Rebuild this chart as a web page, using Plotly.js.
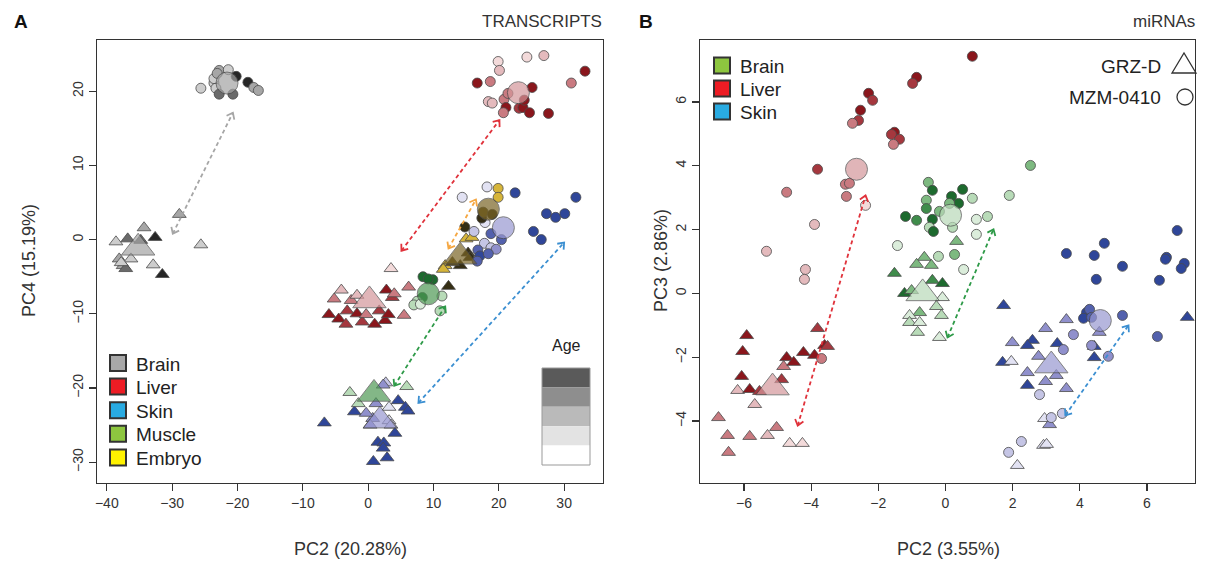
<!DOCTYPE html>
<html>
<head>
<meta charset="utf-8">
<script src="https://cdn.plot.ly/plotly-3.0.1.min.js"></script>
<style>html,body{margin:0;padding:0;background:#fff}</style>
</head>
<body>
<div id="chart" style="width:1205px;height:563px"></div>
<script>
// ---------- Panel A: transcripts, PC2 vs PC4 ----------
// each point: [PC2, PC4, age class 0 (young) .. 4 (old)]
const A_BRAIN_GRZ = [[-34.3,1.6,2],[-32.6,0.3,4],[-38.6,-0.3,1],[-36.8,0.1,3],[-34.8,-0.1,3],[-28.9,3.4,2],[-25.6,-0.7,1],[-32.9,-3.4,1],[-31.5,-4.7,4],[-38.1,-2.6,2],[-37.5,-3.5,2],[-37.1,-3.9,3],[-36.3,-2.6,1],[-37.8,-3.1,1]];
const A_BRAIN_MZM = [[-25.6,20.4,1],[-22.8,22.8,2],[-21.4,22.9,1],[-20.2,22.0,4],[-18.4,21.2,4],[-17.5,20.5,2],[-16.8,20.1,2],[-23.6,21.1,1],[-23.3,20.4,1],[-22.8,19.6,3],[-20.7,19.6,3],[-23.6,21.7,1],[-23.1,22.4,2]];
const A_LIVER_GRZ = [[-5.2,-8.0,2],[-4.1,-6.8,1],[-3.2,-9.6,3],[-2.6,-8.2,2],[-1.7,-10.0,4],[-0.9,-11.1,3],[-0.3,-10.1,2],[1.7,-9.6,3],[2.6,-10.9,4],[3.7,-7.8,3],[3.5,-3.9,0],[6.2,-6.4,2],[2.8,-6.8,4],[4.0,-7.3,2],[3.1,-10.1,4],[5.5,-10.2,2],[-6.0,-10.1,4],[-4.5,-10.7,4],[-3.4,-11.4,3],[1.0,-11.4,4],[-1.7,-7.5,1]];
const A_LIVER_MZM = [[19.9,24.0,0],[20.1,22.8,1],[24.3,24.6,0],[26.9,24.8,1],[33.2,22.7,4],[16.7,21.1,4],[18.7,21.3,2],[31.1,21.1,2],[25.1,20.5,4],[18.4,18.6,1],[19.0,18.4,1],[20.8,18.9,2],[21.4,19.7,2],[21.1,17.8,4],[20.7,17.1,2],[23.1,17.7,3],[23.7,17.8,4],[23.9,18.8,4],[24.7,17.1,4],[27.6,17.0,4]];
const A_SKIN_GRZ = [[2.7,-19.3,1],[2.3,-19.6,2],[-6.7,-24.7,4],[4.6,-21.7,4],[5.7,-22.6,4],[6.1,-23.1,4],[-2.1,-23.2,4],[3.2,-22.6,0],[0.7,-24.1,2],[0.3,-25.0,2],[3.2,-24.4,0],[3.5,-25.0,1],[4.1,-26.1,4],[1.5,-27.3,4],[2.4,-27.4,4],[2.3,-28.1,4],[2.9,-29.4,4],[0.8,-29.9,4],[1.2,-22.1,2],[-0.3,-23.4,2]];
const A_SKIN_MZM = [[18.2,7.1,0],[14.4,5.7,0],[17.9,2.3,0],[22.5,6.3,4],[31.8,5.7,4],[27.3,3.5,4],[28.7,3.0,4],[30.1,3.5,4],[25.3,1.1,4],[26.5,0.0,4],[18.8,0.8,3],[20.4,0.0,3],[16.2,1.1,1],[17.8,-0.5,1],[18.8,-1.1,1],[19.6,-1.3,2],[16.8,-1.4,3],[17.1,-2.2,4],[18.4,-1.9,3],[16.7,-2.9,3]];
const A_MUSCLE_GRZ = [[-2.8,-20.6,1],[5.9,-19.8,1],[-1.5,-22.1,1]];
const A_MUSCLE_MZM = [[8.4,-5.0,4],[9.9,-5.4,4],[9.2,-5.3,4],[8.3,-7.8,4],[11.3,-7.6,1],[7.5,-8.3,1],[7.0,-8.8,1],[11.0,-9.6,1],[8.0,-8.7,0]];
const A_EMBRYO_GRZ = [[15.0,0.1,1],[15.9,0.3,1],[11.8,-3.5,1],[11.5,-4.0,1],[12.3,-6.3,4],[15.3,-1.8,4],[15.6,-2.4,4],[14.1,-3.5,4],[12.9,-3.1,3]];
const A_EMBRYO_MZM = [[19.9,6.9,1],[19.9,5.7,1],[14.8,1.7,4],[17.4,2.9,4],[17.6,3.7,3],[19.0,3.4,4]];
// group centroids
const A_MEAN_TISSUE = ['Brain','Brain','Liver','Liver','Skin','Skin','Muscle','Muscle','Embryo','Embryo'];
const A_MEAN_STRAIN = ['GRZ-D','MZM-0410','GRZ-D','MZM-0410','GRZ-D','MZM-0410','GRZ-D','MZM-0410','GRZ-D','MZM-0410'];
const A_MEAN_X = [-35.2,-21.6,0.2,23.0,1.8,20.7,0.9,9.2,14.1,18.4];
const A_MEAN_Y = [-1.1,21.1,-8.2,19.8,-24.4,1.6,-20.8,-7.3,-2.3,4.1];
// strain-shift arrows: [x0, y0, x1, y1]
const A_ARROW_TISSUE = ['Brain','Liver','Embryo','Muscle','Skin'];
const A_ARROWS = [[-29.9,0.8,-20.7,17.1],[5.1,-1.5,20.1,16.1],[12.3,-1.2,16.5,5.4],[4.0,-19.7,11.8,-9.0],[7.7,-22.0,30.0,-0.4]];

// ---------- Panel B: miRNAs, PC2 vs PC3 ----------
const B_BRAIN_GRZ = [[0.33,1.63,2],[-0.63,1.13,2],[-0.86,0.91,2],[-0.42,0.88,2],[-1.52,0.63,3],[-0.39,0.41,3],[-0.09,0.31,4],[-1.22,0.0,4],[-1.01,0.09,2],[-0.09,-0.13,0],[-0.27,-0.41,1],[-0.77,-0.60,2],[-1.07,-0.69,0],[-1.07,-0.91,1],[-0.77,-0.91,0],[-0.12,-0.69,1],[-0.83,-1.22,1],[-0.18,-1.38,0]];
const B_BRAIN_MZM = [[-0.51,3.48,2],[-0.39,3.23,4],[-0.57,2.92,2],[-0.57,2.66,3],[-1.19,2.41,4],[-0.86,2.29,3],[-0.39,2.32,4],[-0.48,2.07,1],[-0.36,1.94,4],[-0.18,2.57,2],[0.18,3.04,4],[0.51,3.26,4],[0.39,2.82,4],[0.12,2.82,2],[0.80,2.98,1],[0.21,2.07,1],[0.92,2.32,0],[1.25,2.41,1],[0.92,1.85,0],[-1.43,1.50,0],[-0.21,1.16,1],[0.27,1.22,2],[0.54,0.75,0],[1.90,3.07,1],[2.53,4.01,2]];
const B_LIVER_GRZ = [[-5.92,-1.32,4],[-6.04,-1.82,4],[-6.07,-2.60,4],[-6.19,-3.04,1],[-5.83,-3.01,4],[-5.54,-3.07,3],[-4.88,-2.70,3],[-4.82,-2.29,2],[-4.73,-2.01,4],[-4.52,-2.16,4],[-4.23,-1.85,4],[-3.90,-1.94,4],[-3.81,-1.10,3],[-3.60,-1.63,4],[-3.51,-1.66,3],[-5.68,-3.48,1],[-6.76,-3.89,2],[-6.49,-4.45,2],[-5.83,-4.48,2],[-5.30,-4.45,1],[-5.03,-4.20,2],[-4.64,-4.70,0],[-4.26,-4.70,0],[-6.46,-4.98,2]];
const B_LIVER_MZM = [[0.80,7.43,4],[-0.86,6.77,4],[-0.98,6.58,3],[-2.29,6.27,4],[-2.17,6.05,3],[-2.53,5.74,4],[-2.59,5.42,3],[-2.77,5.33,2],[-1.52,5.05,4],[-1.61,4.98,3],[-1.37,4.83,3],[-1.55,4.67,2],[-3.81,3.89,3],[-4.73,3.17,2],[-2.98,3.42,2],[-2.86,3.45,2],[-2.95,3.04,2],[-2.38,2.76,0],[-3.90,2.16,1],[-5.33,1.32,1],[-4.17,0.75,1],[-4.20,0.44,1],[-3.69,-2.04,2]];
const B_SKIN_GRZ = [[1.73,-0.38,4],[7.20,-0.75,4],[3.60,-0.82,2],[2.98,-1.10,2],[4.58,-1.22,2],[2.59,-1.47,4],[2.44,-1.63,4],[1.99,-1.54,2],[3.33,-1.57,4],[4.43,-1.66,4],[2.77,-1.97,2],[4.43,-2.01,4],[1.70,-2.16,4],[1.96,-2.13,0],[2.44,-2.48,2],[3.30,-2.57,2],[2.98,-2.76,2],[2.44,-2.88,4],[3.60,-2.98,2],[2.95,-3.92,0],[3.10,-4.11,2],[2.92,-4.76,0],[3.01,-4.73,0],[2.14,-5.39,0]];
const B_SKIN_MZM = [[6.90,1.97,4],[4.73,1.57,4],[3.60,1.25,4],[4.43,1.19,4],[5.27,0.85,4],[4.49,0.44,4],[6.58,1.13,4],[6.55,1.07,4],[7.11,0.94,4],[7.02,0.78,4],[6.37,0.41,4],[4.20,-0.60,4],[4.29,-0.50,3],[4.11,-0.78,4],[4.35,-0.75,3],[5.27,-0.69,3],[6.31,-1.35,3],[3.81,-1.29,2],[3.51,-1.76,2],[4.35,-1.63,2],[4.85,-1.97,2],[2.80,-3.17,1],[3.48,-3.76,1],[3.15,-3.89,1],[2.26,-4.64,1],[1.88,-4.98,1]];
const B_MEAN_TISSUE = ['Liver','Liver','Brain','Brain','Skin','Skin'];
const B_MEAN_STRAIN = ['GRZ-D','MZM-0410','GRZ-D','MZM-0410','GRZ-D','MZM-0410'];
const B_MEAN_X = [-5.15,-2.65,-0.68,0.15,3.15,4.61];
const B_MEAN_Y = [-2.95,3.89,0.0,2.45,-2.26,-0.85];
const B_ARROW_TISSUE = ['Liver','Brain','Skin'];
const B_ARROWS = [[-4.40,-4.14,-2.38,3.07],[0.06,-1.38,1.43,2.01],[3.57,-3.82,5.45,-1.00]];

// legend labels
const A_LEGEND = ['Brain','Liver','Skin','Muscle','Embryo'];
const B_LEGEND = ['Brain','Liver','Skin'];
const STRAINS = ['GRZ-D','MZM-0410'];
const AGE_STEPS = 5;

// ---------- styles ----------
const W = 1205, H = 563;
const FONT = 'Liberation Sans, Arial, sans-serif';
// age shading ramps, young -> old
const RAMP = {
  grey:   ['#efefef','#cdcdcd','#a6a6a6','#6a6a6a','#262626'],
  red:    ['#f3dada','#e4babd','#c97a80','#a5373e','#8a161c'],
  blue:   ['#e2e2f3','#c5c5e5','#9090cc','#5361ad','#2f4699'],
  green:  ['#dbeddb','#b8dbb8','#7db980','#3f8c4b','#1d6a2e'],
  yellow: ['#eedc8c','#d6b53a','#b2952a','#5e4f1c','#352e14']
};
const MEAN_COL = { grey:'#a3a3a3', red:'#d4979b', blue:'#9898d1', green:'#4f9a55', yellow:'#7a6526', lightgreen:'#b9d9b9' };
const ARROW_COL = { grey:'#a6a6a6', red:'#e0323b', blue:'#3b8fd1', green:'#2e9a48', yellow:'#f5a742' };
const KEY_COL = { Brain:'#a8a8a8', Liver:'#ed1c24', Skin:'#29abe2', Muscle:'#8dc63f', Embryo:'#fff200' };
const KEY_COL_B = { Brain:'#8dc63f', Liver:'#ed1c24', Skin:'#29abe2' };
const TISSUE_A = { Brain:'grey', Liver:'red', Skin:'blue', Muscle:'green', Embryo:'yellow' };
const TISSUE_B = { Brain:'green', Liver:'red', Skin:'blue' };
const OUTLINE = '#4a4a4a';

// plot boxes (pixels) and axis ranges
const BOX_A = { l:97, r:603, t:40, b:483 };
const BOX_B = { l:700, r:1195, t:40, b:483 };
const RANGE_A = { x:[-41.5, 35.95], y:[-32.8, 26.9] };
const RANGE_B = { x:[-7.31, 7.43], y:[-5.94, 7.94] };

const px = v => v / W;
const py = v => 1 - v / H;

function scatterTrace(pts, ramp, symbol, size, ax) {
  return {
    type:'scatter', mode:'markers', xaxis:ax[0], yaxis:ax[1], hoverinfo:'skip',
    x: pts.map(p => p[0]), y: pts.map(p => p[1]),
    marker: { symbol, size, color: pts.map(p => RAMP[ramp][p[2]]),
              line:{ color: OUTLINE, width: 0.8 }, opacity: 1 }
  };
}

const traces = [];
const axA = ['x','y'], axB = ['x2','y2'];
const TRI = 'triangle-up', CIR = 'circle';
const TRI_SIZE = 12, CIR_SIZE = 10;
// panel A
traces.push(scatterTrace(A_BRAIN_GRZ,'grey',TRI,TRI_SIZE,axA));
traces.push(scatterTrace(A_LIVER_GRZ,'red',TRI,TRI_SIZE,axA));
traces.push(scatterTrace(A_SKIN_GRZ,'blue',TRI,TRI_SIZE,axA));
traces.push(scatterTrace(A_MUSCLE_GRZ,'green',TRI,TRI_SIZE,axA));
traces.push(scatterTrace(A_EMBRYO_GRZ,'yellow',TRI,TRI_SIZE,axA));
traces.push(scatterTrace(A_BRAIN_MZM,'grey',CIR,CIR_SIZE,axA));
traces.push(scatterTrace(A_LIVER_MZM,'red',CIR,CIR_SIZE,axA));
traces.push(scatterTrace(A_SKIN_MZM,'blue',CIR,CIR_SIZE,axA));
traces.push(scatterTrace(A_MUSCLE_MZM,'green',CIR,CIR_SIZE,axA));
traces.push(scatterTrace(A_EMBRYO_MZM,'yellow',CIR,CIR_SIZE,axA));
// panel B
traces.push(scatterTrace(B_BRAIN_GRZ,'green',TRI,TRI_SIZE,axB));
traces.push(scatterTrace(B_LIVER_GRZ,'red',TRI,TRI_SIZE,axB));
traces.push(scatterTrace(B_SKIN_GRZ,'blue',TRI,TRI_SIZE,axB));
traces.push(scatterTrace(B_BRAIN_MZM,'green',CIR,CIR_SIZE,axB));
traces.push(scatterTrace(B_LIVER_MZM,'red',CIR,CIR_SIZE,axB));
traces.push(scatterTrace(B_SKIN_MZM,'blue',CIR,CIR_SIZE,axB));

function meanTrace(tissues, strains, xs, ys, map, ax, lightGreen) {
  return {
    type:'scatter', mode:'markers', xaxis:ax[0], yaxis:ax[1], hoverinfo:'skip',
    x: xs, y: ys,
    marker: {
      symbol: strains.map(s => s === 'GRZ-D' ? TRI : CIR),
      size: strains.map(s => s === 'GRZ-D' ? 29 : 22),
      color: tissues.map(t => (lightGreen && map[t] === 'green') ? MEAN_COL.lightgreen : MEAN_COL[map[t]]),
      line: { color: OUTLINE, width: 1 }
    }
  };
}
traces.push(meanTrace(A_MEAN_TISSUE, A_MEAN_STRAIN, A_MEAN_X, A_MEAN_Y, TISSUE_A, axA, false));
traces.push(meanTrace(B_MEAN_TISSUE, B_MEAN_STRAIN, B_MEAN_X, B_MEAN_Y, TISSUE_B, axB, true));

// ---------- arrows: dashed shaft + open chevron heads at both ends ----------
const shapes = [], annotations = [];
function pxPerUnit(box, range) {
  return { x: (box.r - box.l) / (range.x[1] - range.x[0]), y: (box.b - box.t) / (range.y[1] - range.y[0]) };
}
const HEAD_LEN = 7, HEAD_ANGLE = 38 * Math.PI / 180;
function addArrows(list, tissues, map, ax, box, range) {
  const s = pxPerUnit(box, range);
  list.forEach((a, i) => {
    const col = ARROW_COL[map[tissues[i]]];
    const [x0, y0, x1, y1] = a;
    shapes.push({ type:'line', xref:ax[0], yref:ax[1], x0, y0, x1, y1,
                  line:{ color: col, width: 1.8, dash:'4px,3px' } });
    [[x1, y1, x0, y0], [x0, y0, x1, y1]].forEach(([tx, ty, ox, oy]) => {
      // back-direction in screen pixels
      let vx = (ox - tx) * s.x, vy = (oy - ty) * s.y;
      const n = Math.hypot(vx, vy); vx /= n; vy /= n;
      const wing = sgn => {
        const c = Math.cos(sgn * HEAD_ANGLE), si = Math.sin(sgn * HEAD_ANGLE);
        const wx = vx * c - vy * si, wy = vx * si + vy * c;
        return [tx + wx * HEAD_LEN / s.x, ty + wy * HEAD_LEN / s.y];
      };
      const [ax1, ay1] = wing(1), [ax2, ay2] = wing(-1);
      shapes.push({ type:'path', xref:ax[0], yref:ax[1],
        path:`M ${ax1} ${ay1} L ${tx} ${ty} L ${ax2} ${ay2}`,
        line:{ color: col, width: 1.8 } });
    });
  });
}
addArrows(A_ARROWS, A_ARROW_TISSUE, TISSUE_A, axA, BOX_A, RANGE_A);
addArrows(B_ARROWS, B_ARROW_TISSUE, TISSUE_B, axB, BOX_B, RANGE_B);

// ---------- text ----------
function label(text, x, y, opts) {
  annotations.push(Object.assign({ xref:'paper', yref:'paper', x: px(x), y: py(y), text,
    showarrow:false, xanchor:'left', yanchor:'middle',
    font:{ family: FONT, size: 18, color:'#222' } }, opts || {}));
}
label('<b>A</b>', 12, 22, { font:{ family: FONT, size: 19, color:'#111' } });
label('<b>B</b>', 637, 22, { font:{ family: FONT, size: 19, color:'#111' } });
label('TRANSCRIPTS', 604, 21, { xanchor:'right', font:{ family: FONT, size: 17, color:'#333' } });
label('miRNAs', 1197, 21, { xanchor:'right', font:{ family: FONT, size: 17, color:'#333' } });
label('PC2 (20.28%)', 350, 549, { xanchor:'center', font:{ family: FONT, size: 18, color:'#333' } });
label('PC2 (3.55%)', 948, 549, { xanchor:'center', font:{ family: FONT, size: 18, color:'#333' } });
label('PC4 (15.19%)', 29, 261, { xanchor:'center', textangle:-90, font:{ family: FONT, size: 18, color:'#333' } });
label('PC3 (2.86%)', 661, 261, { xanchor:'center', textangle:-90, font:{ family: FONT, size: 18, color:'#333' } });

// tissue keys
function key(names, colors, x0, y0, step) {
  names.forEach((n, i) => {
    const cy = y0 + i * step;
    shapes.push({ type:'rect', xref:'paper', yref:'paper',
      x0: px(x0), x1: px(x0 + 16), y0: py(cy + 8), y1: py(cy - 8),
      fillcolor: colors[n], line:{ color:'#333', width: 2 } });
    label(n, x0 + 24, cy + 1, { font:{ family: FONT, size: 19, color:'#222' } });
  });
}
key(A_LEGEND, KEY_COL, 110, 363, 23.6);
key(B_LEGEND, KEY_COL_B, 714, 65.5, 23);

// age scale
const AGE_BOX = { l:542, r:590, t:368, b:465 };
label('Age', 566, 345, { xanchor:'center', font:{ family: FONT, size: 16, color:'#222' } });
const ageFill = ['#5a5a5a','#8e8e8e','#bababa','#e3e3e3','#ffffff'];
for (let i = 0; i < AGE_STEPS; i++) {
  const h = (AGE_BOX.b - AGE_BOX.t) / AGE_STEPS;
  shapes.push({ type:'rect', xref:'paper', yref:'paper',
    x0: px(AGE_BOX.l), x1: px(AGE_BOX.r), y0: py(AGE_BOX.t + (i + 1) * h), y1: py(AGE_BOX.t + i * h),
    fillcolor: ageFill[i], line:{ width: 0 } });
}
shapes.push({ type:'rect', xref:'paper', yref:'paper',
  x0: px(AGE_BOX.l), x1: px(AGE_BOX.r), y0: py(AGE_BOX.b), y1: py(AGE_BOX.t),
  fillcolor:'rgba(0,0,0,0)', line:{ color:'#999', width: 1 } });

// strain symbol key
label(STRAINS[0], 1163, 66, { xanchor:'right', font:{ family: FONT, size: 19, color:'#222' } });
label(STRAINS[1], 1163, 97, { xanchor:'right', font:{ family: FONT, size: 19, color:'#222' } });
shapes.push({ type:'path', xref:'paper', yref:'paper',
  path: `M ${px(1172)} ${py(73)} L ${px(1196)} ${py(73)} L ${px(1184)} ${py(53)} Z`,
  fillcolor:'rgba(0,0,0,0)', line:{ color:'#333', width: 1.3 } });
shapes.push({ type:'circle', xref:'paper', yref:'paper',
  x0: px(1177), x1: px(1193), y0: py(105), y1: py(89),
  fillcolor:'rgba(0,0,0,0)', line:{ color:'#333', width: 1.3 } });

// ---------- axes ----------
function axis(domain, range, tickvals, isY, anchor) {
  return {
    domain, range, anchor, tickvals, ticktext: tickvals.map(v => v < 0 ? '\u2212' + Math.abs(v) : String(v)),
    showline:true, linecolor:'#333', linewidth:1.2, mirror:true,
    ticks:'outside', ticklen:7, tickwidth:1.2, tickcolor:'#333',
    showgrid:false, zeroline:false, fixedrange:true,
    tickangle: isY ? -90 : 0,
    tickfont:{ family: FONT, size: 14, color:'#333' }
  };
}
const layout = {
  width: W, height: H, margin:{ l:0, r:0, t:0, b:0 },
  paper_bgcolor:'#fff', plot_bgcolor:'#fff', showlegend:false,
  xaxis:  axis([px(BOX_A.l), px(BOX_A.r)], RANGE_A.x, [-40,-30,-20,-10,0,10,20,30], false, 'y'),
  yaxis:  axis([py(BOX_A.b), py(BOX_A.t)], RANGE_A.y, [-30,-20,-10,0,10,20], true, 'x'),
  xaxis2: axis([px(BOX_B.l), px(BOX_B.r)], RANGE_B.x, [-6,-4,-2,0,2,4,6], false, 'y2'),
  yaxis2: axis([py(BOX_B.b), py(BOX_B.t)], RANGE_B.y, [-4,-2,0,2,4,6], true, 'x2'),
  shapes, annotations
};

Plotly.newPlot('chart', traces, layout, { staticPlot:true, displayModeBar:false });
</script>
</body>
</html>
